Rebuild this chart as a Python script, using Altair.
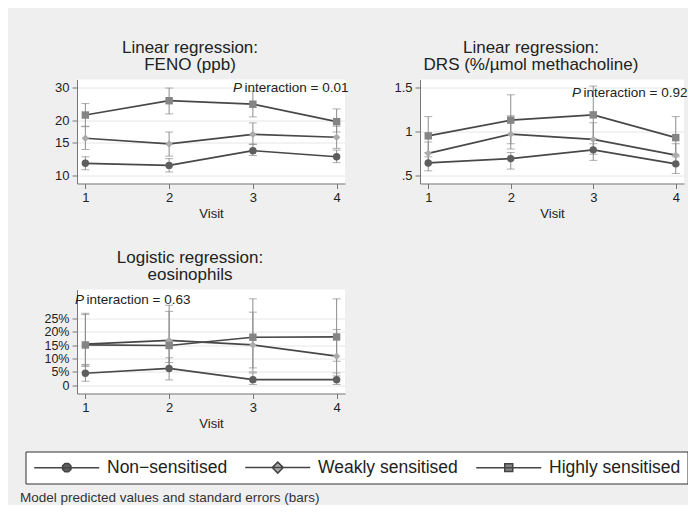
import altair as alt
import pandas as pd

FONT = "Liberation Sans"

visits = [1, 2, 3, 4]
series = ["Non\u2212sensitised", "Weakly sensitised", "Highly sensitised"]
marker_fill = ["#5e5e5e", "#ababab", "#858585"]

# Panel 1: FENO (ppb), log scale
feno_val = [[11.6, 11.3, 13.6, 12.6], [15.9, 14.8, 16.7, 16.1], [21.3, 25.5, 24.4, 19.6]]
feno_lo = [[10.7, 10.4, 12.8, 11.7], [13.8, 12.7, 14.7, 14.0], [18.5, 21.6, 20.8, 17.2]]
feno_hi = [[12.6, 12.3, 14.8, 13.7], [18.4, 17.2, 19.3, 18.5], [24.6, 29.9, 28.8, 23.0]]

# Panel 2: DRS (%/umol methacholine)
drs_val = [[0.64, 0.69, 0.79, 0.63], [0.75, 0.97, 0.91, 0.73], [0.95, 1.13, 1.19, 0.93]]
drs_lo = [[0.55, 0.57, 0.67, 0.52], [0.63, 0.80, 0.74, 0.62], [0.76, 0.86, 0.92, 0.73]]
drs_hi = [[0.71, 0.76, 0.86, 0.71], [0.88, 1.18, 1.10, 0.86], [1.17, 1.42, 1.52, 1.17]]

# Panel 3: eosinophils (%)
eos_val = [[4.5, 6.3, 2.1, 2.1], [15.4, 16.8, 15.1, 10.9], [15.1, 14.9, 18.0, 18.1]]
eos_lo = [[1.5, 2.0, 0.3, 0.3], [7.5, 8.5, 5.0, 3.5], [7.0, 6.0, 6.5, 9.0]]
eos_hi = [[7.8, 10.3, 4.6, 4.6], [27.0, 27.7, 27.4, 20.9], [26.5, 30.0, 32.4, 32.4]]

titles = [["Linear regression:", "FENO (ppb)"],
          ["Linear regression:", "DRS (%/\u00b5mol methacholine)"],
          ["Logistic regression:", "eosinophils"]]
p_values = ["0.01", "0.92", "0.63"]
footnote = ["Model predicted values and standard errors (bars)"]

feno_ticks = [10, 15, 20, 30]
drs_ticks = [0.5, 1, 1.5]
eos_ticks = [0, 5, 10, 15, 20, 25]


def long_df(val, lo, hi):
    rows = []
    for k, s in enumerate(series):
        for i, v in enumerate(visits):
            rows.append({"visit": v, "series": s, "k": k,
                         "val": val[k][i], "lo": lo[k][i], "hi": hi[k][i]})
    return pd.DataFrame(rows)


shape_cond = alt.value("diamond", condition=[
    {"test": "datum.k === 0", "value": "circle"},
    {"test": "datum.k === 2", "value": "square"}])
fill_cond = alt.value(marker_fill[1], condition=[
    {"test": "datum.k === 0", "value": marker_fill[0]},
    {"test": "datum.k === 2", "value": marker_fill[2]}])

# legend symbols: a line with the marker in its middle (unit = 7 px)
LINE = "M-1,0H8.286"
legend_paths = [
    LINE + "M4.237,0.246L3.889,0.594L3.397,0.594L3.049,0.246L3.049,-0.246L3.397,-0.594L3.889,-0.594L4.237,-0.246Z",
    LINE + "M3.643,-0.786L4.429,0L3.643,0.786L2.857,0Z",
    LINE + "M3.072,-0.571H4.214V0.571H3.072Z",
]


def panel(df, title, yscale, yaxis, ptext, px, py, width, with_legend=False):
    xenc = alt.X("visit:Q", scale=alt.Scale(domain=[0.9, 4.1], nice=False, zero=False),
                 axis=alt.Axis(values=visits, format="d", title="Visit", grid=False))
    base = alt.Chart(df)
    rules = base.mark_rule(color="#8c8c8c", strokeWidth=1).encode(
        x=xenc, y=alt.Y("lo:Q", scale=yscale, axis=yaxis), y2="hi:Q")
    cap_lo = base.mark_tick(color="#8c8c8c", orient="horizontal", size=8, thickness=1).encode(
        x=xenc, y=alt.Y("lo:Q", scale=yscale, axis=yaxis))
    cap_hi = base.mark_tick(color="#8c8c8c", orient="horizontal", size=8, thickness=1).encode(
        x=xenc, y=alt.Y("hi:Q", scale=yscale, axis=yaxis))
    line = base.mark_line(color="#484848", strokeWidth=1.7).encode(
        x=xenc, y=alt.Y("val:Q", scale=yscale, axis=yaxis), detail="series:N")
    pts = base.mark_point(filled=True, size=55, opacity=1).encode(
        x=xenc, y=alt.Y("val:Q", scale=yscale, axis=yaxis), shape=shape_cond, fill=fill_cond)
    tdf = pd.DataFrame({"p": ["P"], "rest": ["interaction = " + ptext]})
    t1 = alt.Chart(tdf).mark_text(align="left", baseline="middle", fontStyle="italic",
                                  fontSize=13.5, font=FONT, color="#222").encode(
        x=alt.value(px), y=alt.value(py), text="p:N")
    t2 = alt.Chart(tdf).mark_text(align="left", baseline="middle",
                                  fontSize=13.5, font=FONT, color="#222").encode(
        x=alt.value(px + 11.5), y=alt.value(py), text="rest:N")
    layers = [rules, cap_lo, cap_hi, line, pts, t1, t2]
    if with_legend:
        leg = base.transform_filter("false").mark_point(
            filled=True, stroke="#444444", strokeWidth=1.7, opacity=1).encode(
            x=xenc, y=alt.Y("val:Q", scale=yscale, axis=yaxis),
            shape=alt.Shape("series:N", scale=alt.Scale(domain=series, range=legend_paths),
                            legend=alt.Legend(title=None)),
            fill=alt.Fill("series:N", scale=alt.Scale(domain=series, range=marker_fill),
                          legend=alt.Legend(title=None)))
        note = alt.Chart(pd.DataFrame({"note": footnote})).mark_text(
            align="left", baseline="middle", fontSize=13.5, font=FONT, color="#333").encode(
            x=alt.value(-57), y=alt.value(208.5), text="note:N")
        layers += [leg, note]
    return alt.layer(*layers).properties(
        width=width, height=104,
        title=alt.TitleParams(text=title, fontSize=17, fontWeight="normal", lineHeight=17,
                              font=FONT, color="#222", anchor="middle", dx=-21, offset=6))


yaxis_common = dict(grid=True, title=None, labelAngle=0)

p1 = panel(long_df(feno_val, feno_lo, feno_hi), titles[0],
           alt.Scale(type="log", domain=[9, 33.3], nice=False),
           alt.Axis(values=feno_ticks, format="d", **yaxis_common),
           p_values[0], 156, 8, 268)
p2 = panel(long_df(drs_val, drs_lo, drs_hi), titles[1],
           alt.Scale(domain=[0.405, 1.595], nice=False, zero=False),
           alt.Axis(values=drs_ticks, format="~g",
                    labelExpr="datum.value == 0.5 ? '.5' : datum.label", **yaxis_common),
           p_values[1], 152, 13, 264)
p3 = panel(long_df(eos_val, eos_lo, eos_hi), titles[2],
           alt.Scale(domain=[-3.1, 35.9], nice=False, zero=False),
           alt.Axis(values=eos_ticks, labelFontSize=12.5,
                    labelExpr="datum.value == 0 ? '0' : datum.value + '%'", **yaxis_common),
           p_values[2], -2, 10, 268, with_legend=True)

chart = alt.concat(p1, p2, p3, columns=2, spacing={"row": 106, "column": 75}, bounds="flush").properties(
    padding={"left": 12, "top": 30.5, "right": 0, "bottom": 0},
).configure(
    background="#efefef", font=FONT
).configure_view(
    fill="white", stroke=None
).configure_axis(
    domainColor="#777777", tickColor="#777777", tickSize=5, labelFontSize=13,
    labelColor="#222", titleFontSize=13, titleFontWeight="normal", titleColor="#222",
    gridColor="#e6e6e6", labelFont=FONT, titleFont=FONT, labelPadding=3, titlePadding=3
).configure_legend(
    orient="none", legendX=-51.5, legendY=372, direction="horizontal",
    symbolSize=196, labelFontSize=17.5, labelFont=FONT, labelColor="#222",
    labelOffset=57, columnPadding=14, padding=7, strokeColor="#333333",
    fillColor="white", gridAlign="each", labelLimit=400
)

chart.save("out.html", embed_options={"renderer": "svg", "actions": False})
